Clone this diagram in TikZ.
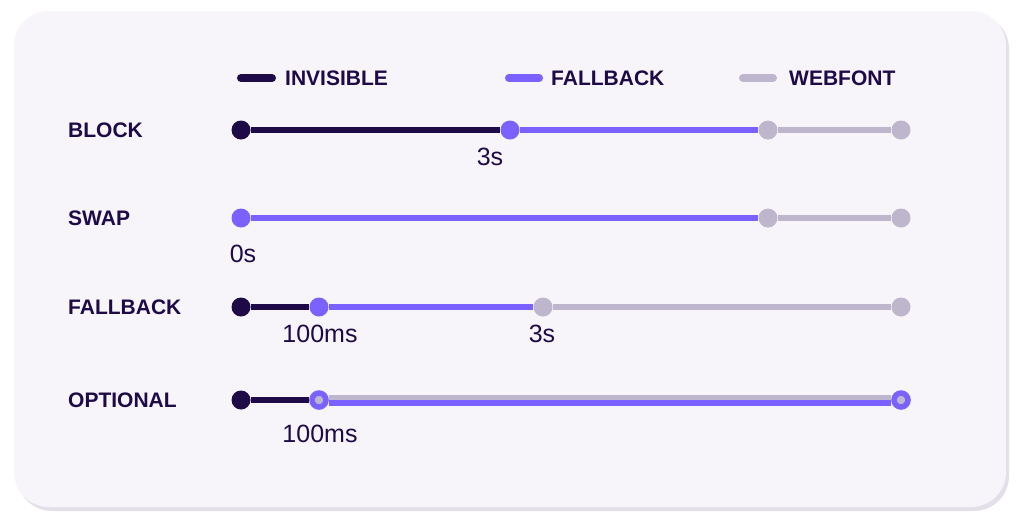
\documentclass[tikz,border=0pt]{standalone}
\usepackage{fontspec}
\setmainfont{Liberation Sans}
\usetikzlibrary{positioning}
\definecolor{ink}{HTML}{1E0A47}
\definecolor{fallc}{HTML}{7B61FF}
\definecolor{webc}{HTML}{BEB6CC}
\definecolor{cardc}{HTML}{F7F5F9}
\definecolor{shadowc}{HTML}{E3E0E9}
\tikzset{
  dot/.style={circle, fill=#1, inner sep=0pt, minimum size=19pt},
  ring/.style={circle, fill=webc, draw=fallc, line width=5.5pt, inner sep=0pt, minimum size=14pt},
  seg/.style={line width=6.5pt, draw=#1},
  legline/.style={line width=8pt, line cap=round, draw=#1},
  rowlabel/.style={anchor=west, text=ink, font=\fontsize{21}{21}\selectfont\bfseries, inner sep=0pt},
  leglabel/.style={anchor=west, text=ink, font=\fontsize{21}{21}\selectfont\bfseries, inner sep=0pt},
  timelabel/.style={text=ink, font=\fontsize{25}{25}\selectfont, inner sep=0pt},
}
\begin{document}
\begin{tikzpicture}[x=1pt, y=-1pt]
			%%%%% CARD %%%%%
			\useasboundingbox (0, 0) rectangle (1024, 523);
			\fill[white] (0, 0) rectangle (1024, 523);
			\fill[shadowc, rounded corners=35pt] (17, 14) rectangle (1009, 511);
			\fill[cardc, rounded corners=35pt] (14, 11) rectangle (1006, 507);
			
			%%%%% LEGEND %%%%%
			\coordinate (invA) at (241, 78);
			\coordinate (invB) at (272, 78);
			\coordinate (fallA) at (509, 78);
			\coordinate (fallB) at (539, 78);
			\coordinate (webA) at (743, 78);
			\coordinate (webB) at (773, 78);
			\draw[legline=ink] (invA) -- (invB);
			\draw[legline=fallc] (fallA) -- (fallB);
			\draw[legline=webc] (webA) -- (webB);
			\node[leglabel] (invT) at (285, 78) {INVISIBLE};
			\node[leglabel] (fallT) at (551, 78) {FALLBACK};
			\node[leglabel] (webT) at (789, 78) {WEBFONT};
			
			%%%%% BLOCK %%%%%
			\node[rowlabel] (blockT) at (68, 130) {BLOCK};
			\node[dot=ink] (b0) at (241, 130) {};
			\node[dot=fallc] (b1) at (510, 130) {};
			\node[dot=webc] (b2) at (768, 130) {};
			\node[dot=webc] (b3) at (901, 130) {};
			\draw[seg=webc] (b2) -- (b3);
			\draw[seg=fallc] (b1) -- (b2);
			\draw[seg=ink] (b0) -- (b1);
			\node[timelabel] (b1T) at (490, 157) {3s};
			
			%%%%% SWAP %%%%%
			\node[rowlabel] (swapT) at (68, 218) {SWAP};
			\node[dot=fallc] (s0) at (241, 218) {};
			\node[dot=webc] (s1) at (768, 218) {};
			\node[dot=webc] (s2) at (901, 218) {};
			\draw[seg=webc] (s1) -- (s2);
			\draw[seg=fallc] (s0) -- (s1);
			\node[timelabel] (s0T) at (243, 254) {0s};
			
			%%%%% FALLBACK %%%%%
			\node[rowlabel] (fbT) at (68, 307) {FALLBACK};
			\node[dot=ink] (f0) at (241, 307) {};
			\node[dot=fallc] (f1) at (319, 307) {};
			\node[dot=webc] (f2) at (543, 307) {};
			\node[dot=webc] (f3) at (901, 307) {};
			\draw[seg=webc] (f2) -- (f3);
			\draw[seg=fallc] (f1) -- (f2);
			\draw[seg=ink] (f0) -- (f1);
			\node[timelabel] (f1T) at (320, 334) {100ms};
			\node[timelabel] (f2T) at (542, 334) {3s};
			
			%%%%% OPTIONAL %%%%%
			\node[rowlabel] (optT) at (68, 400) {OPTIONAL};
			\node[dot=ink] (o0) at (241, 400) {};
			\node[ring] (o1) at (319, 400) {};
			\node[ring] (o2) at (901, 400) {};
			\draw[seg=ink] (o0) -- (o1);
			\draw[seg=webc, line width=5.5pt] ([yshift=2.75pt]o1.east) -- ([yshift=2.75pt]o2.west);
			\draw[seg=fallc, line width=5.5pt] ([yshift=-2.75pt]o1.east) -- ([yshift=-2.75pt]o2.west);
			\node[timelabel] (o1T) at (320, 434) {100ms};
			%%%%% END %%%%%
		\end{tikzpicture}
\end{document}
